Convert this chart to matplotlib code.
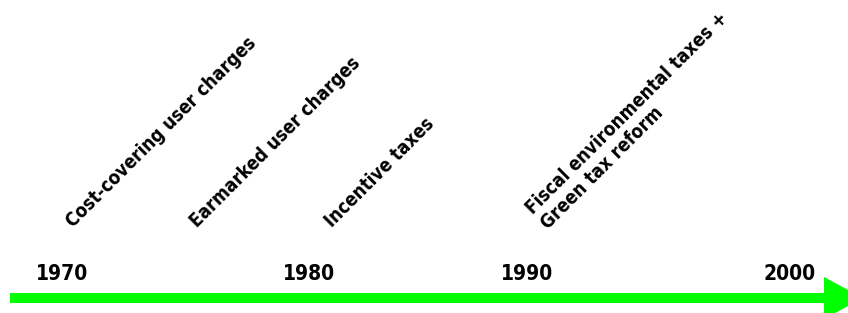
import matplotlib.pyplot as plt
from matplotlib.patches import FancyArrow

# timeline data
years = ["1970", "1980", "1990", "2000"]
year_x = [62, 309, 527, 790]  # pixel positions along the arrow

events = [
    "Cost-covering user charges",
    "Earmarked user charges",
    "Incentive taxes",
    "Fiscal environmental taxes +\nGreen tax reform",
]
event_x = [73, 197, 332, 546]

W, H = 848, 313
fig = plt.figure(figsize=(W / 100, H / 100), dpi=100)
ax = fig.add_axes([0, 0, 1, 1])
ax.set_xlim(0, W)
ax.set_ylim(H, 0)
ax.axis("off")

# green arrow (tip runs past the right edge)
ax.add_patch(FancyArrow(10, 298, 853, 0, width=10, head_width=42, head_length=39,
                        length_includes_head=True, color="#00ff00", lw=0))

# year labels
for x, y in zip(year_x, years):
    ax.text(x, 280, y, ha="center", va="baseline", fontsize=15,
            fontweight="bold", family="DejaVu Sans", fontstretch="condensed")

# rotated event labels
for x, label in zip(event_x, events):
    ax.text(x, 228, label, rotation=45, rotation_mode="anchor", ha="left",
            va="baseline", fontsize=13.5, fontweight="bold", family="DejaVu Sans",
            fontstretch="condensed", linespacing=1.2)

fig.savefig("out.png", dpi=100)
